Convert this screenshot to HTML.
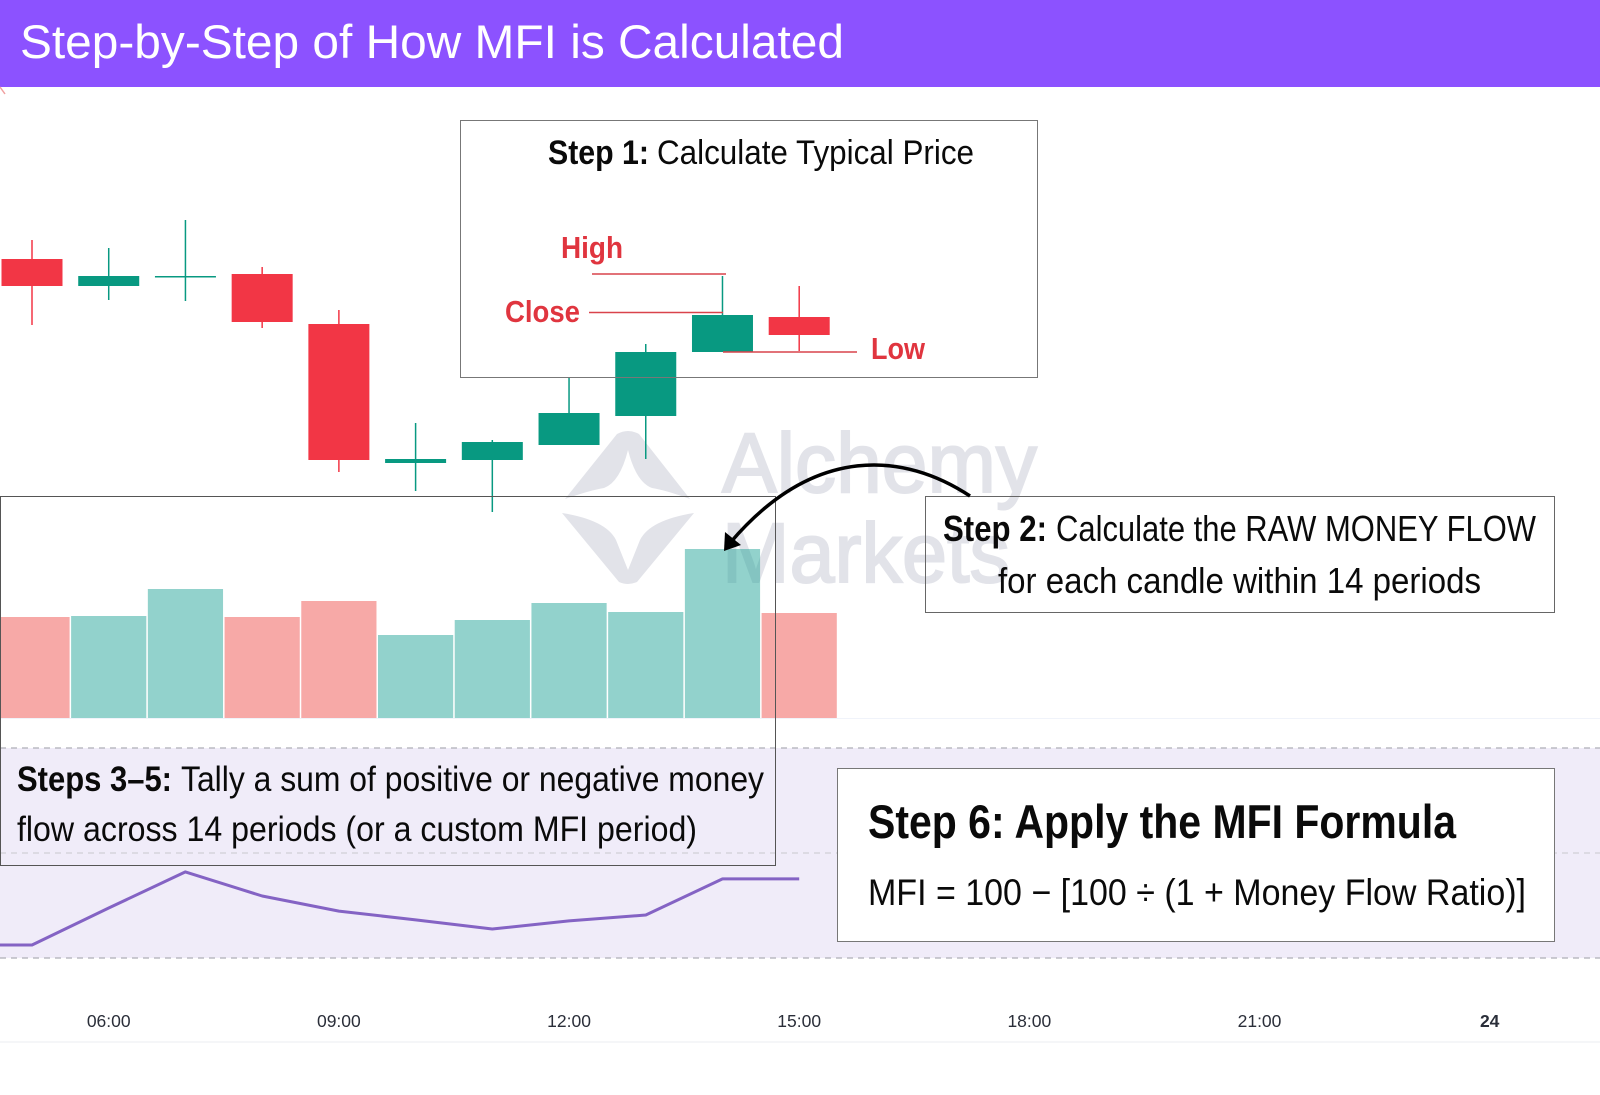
<!DOCTYPE html>
<html lang="en">
<head>
<meta charset="utf-8">
<title>Step-by-Step of How MFI is Calculated</title>
<style>
html,body{margin:0;padding:0;background:#fff;width:1600px;height:1095px;overflow:hidden}
svg{display:block}
text{font-family:"Liberation Sans",sans-serif}
.b{font-weight:700}
</style>
</head>
<body>
<svg id="chart" xmlns="http://www.w3.org/2000/svg" width="1600" height="1095" viewBox="0 0 1600 1095">
  <rect x="0" y="0" width="1600" height="1095" fill="#ffffff"/>
  <g id="watermark" fill="#e2e3e9">
    <path d="M565 499 L617 434 Q628 428 639 434 L690 499 Q665 490 652 488 Q636 482 628 450 Q620 482 604 488 Q591 490 565 499 Z"/>
    <path d="M562 513 L619 582 Q628 586 637 582 L694 513 Q650 520 640 540 L628 570 L616 540 Q606 520 562 513 Z"/>
    <text x="722" y="492" font-size="84" stroke="#e2e3e9" stroke-width="2" textLength="315" lengthAdjust="spacingAndGlyphs">Alchemy</text>
    <text x="722" y="582" font-size="84" stroke="#e2e3e9" stroke-width="2" textLength="288" lengthAdjust="spacingAndGlyphs">Markets</text>
  </g>
  <line x1="0" y1="718.5" x2="1600" y2="718.5" stroke="#f0f3fa" stroke-width="1"/>
  <line x1="0" y1="1042" x2="1600" y2="1042" stroke="#f2f3f6" stroke-width="1.5"/>
  <g id="mfi-panel"></g>
  <g id="volume-bars"></g>
  <g id="candles"></g>
  <g id="time-axis"></g>

  <rect x="0" y="0" width="1600" height="87" fill="#8c52ff"/>
  <text x="20" y="58" font-size="47" fill="#ffffff" textLength="824" lengthAdjust="spacingAndGlyphs">Step-by-Step of How MFI is Calculated</text>
  <line x1="0" y1="87" x2="5" y2="94" stroke="#f0a0a0" stroke-width="1.5"/>

  <rect x="460.5" y="120.5" width="577" height="257" fill="none" stroke="#777" stroke-width="1"/>
  <text class="b" x="548" y="164" font-size="34" fill="#0a0a0a" textLength="101" lengthAdjust="spacingAndGlyphs">Step 1:</text>
  <text x="657" y="164" font-size="34" fill="#0a0a0a" textLength="317" lengthAdjust="spacingAndGlyphs">Calculate Typical Price</text>
  <text class="b" x="561" y="258" font-size="31" fill="#e0353f" textLength="62" lengthAdjust="spacingAndGlyphs">High</text>
  <text class="b" x="505" y="322" font-size="31" fill="#e0353f" textLength="75" lengthAdjust="spacingAndGlyphs">Close</text>
  <text class="b" x="871" y="359" font-size="31" fill="#e0353f" textLength="54" lengthAdjust="spacingAndGlyphs">Low</text>
  <line x1="592" y1="274" x2="726" y2="274" stroke="#d9434b" stroke-width="1.5"/>
  <line x1="589" y1="312.5" x2="723" y2="312.5" stroke="#d9434b" stroke-width="1.5"/>
  <line x1="723" y1="352" x2="857" y2="352" stroke="#d9434b" stroke-width="1.5"/>

  <rect x="0.5" y="496.5" width="775" height="369" fill="none" stroke="#555" stroke-width="1"/>
  <text class="b" x="17" y="791" font-size="35" fill="#0a0a0a" textLength="155" lengthAdjust="spacingAndGlyphs">Steps 3–5:</text>
  <text x="181" y="791" font-size="35" fill="#0a0a0a" textLength="583" lengthAdjust="spacingAndGlyphs">Tally a sum of positive or negative money</text>
  <text x="17" y="841" font-size="35" fill="#0a0a0a" textLength="680" lengthAdjust="spacingAndGlyphs">flow across 14 periods (or a custom MFI period)</text>

  <rect x="925.5" y="496.5" width="629" height="116" fill="none" stroke="#666" stroke-width="1"/>
  <text class="b" x="943" y="541" font-size="36" fill="#0a0a0a" textLength="104" lengthAdjust="spacingAndGlyphs">Step 2:</text>
  <text x="1056" y="541" font-size="36" fill="#0a0a0a" textLength="480" lengthAdjust="spacingAndGlyphs">Calculate the RAW MONEY FLOW</text>
  <text x="998" y="593" font-size="36" fill="#0a0a0a" textLength="483" lengthAdjust="spacingAndGlyphs">for each candle within 14 periods</text>

  <rect x="837.5" y="768.5" width="717" height="173" fill="#ffffff" stroke="#777" stroke-width="1"/>
  <text class="b" x="868" y="838" font-size="47" fill="#0a0a0a" textLength="588" lengthAdjust="spacingAndGlyphs">Step 6: Apply the MFI Formula</text>
  <text x="868" y="905" font-size="37" fill="#0a0a0a" textLength="658" lengthAdjust="spacingAndGlyphs">MFI = 100 − [100 ÷ (1 + Money Flow Ratio)]</text>

  <path d="M970 496 C905 453 815 443 730 543" fill="none" stroke="#000" stroke-width="3.5"/>
  <polygon points="724,551 725,532 741,545" fill="#000"/>
</svg>
<script>
// Candle values
const opens  = [126.1, 123.4, 124.4, 124.6, 119.6, 105.7, 106.0, 107.5, 110.4, 116.8, 120.3];
const highs  = [128.0, 127.2, 130.0, 125.3, 121.0, 109.7, 108.0, 114.3, 117.6, 124.4, 123.4];
const lows   = [119.5, 122.0, 121.9, 119.2, 104.8, 102.9, 100.8, 107.5, 106.1, 116.8, 116.9];
const closes = [123.4, 124.4, 124.4, 119.8, 106.0, 106.1, 107.8, 110.7, 116.8, 120.5, 118.5];
// Volume per candle
const volumes = [1010, 1020, 1290, 1010, 1170, 830, 980, 1150, 1060, 1690, 1050];
// MFI: the reading before the first candle, then one per candle
const mfiValues = [23.7, 23.7, 34.3, 44.6, 37.7, 33.4, 30.9, 28.3, 30.6, 32.3, 42.6, 42.6];
// Time axis
const timeLabels = ["06:00", "09:00", "12:00", "15:00", "18:00", "21:00", "24"];
const timeLabelSlots = [1, 4, 7, 10, 13, 16, 19];
// MFI levels
const mfiLevels = [80, 50, 20];

const NS = "http://www.w3.org/2000/svg";
const xAt = i => 32 + i * 76.72;
const priceY = p => 520 - (p - 100) * 10;
const volumeY = v => 718 - v / 10;
const mfiY = v => 853 - (v - 50) * 3.5;

function make(tag, attrs, parent) {
  const el = document.createElementNS(NS, tag);
  for (const k in attrs) el.setAttribute(k, attrs[k]);
  parent.appendChild(el);
  return el;
}

// MFI panel
const mfiPanel = document.getElementById("mfi-panel");
const band = make("rect", {x: 0, y: mfiY(80), width: 1600, height: mfiY(20) - mfiY(80), fill: "#f0ecf9"}, mfiPanel);


mfiLevels.forEach(level => {
  const ln = make("line", {x1: 0, x2: 1600, y1: mfiY(level), y2: mfiY(level),
    stroke: level === 50 ? "#cfcfd6" : "#aeaeb6", "stroke-width": 1.3, "stroke-dasharray": "6 5"}, mfiPanel);
  
  
});
const mfiPoints = mfiValues.map((v, i) => xAt(i - 1).toFixed(1) + "," + mfiY(v).toFixed(1)).join(" ");
const mfiLine = make("polyline", {points: mfiPoints, fill: "none", stroke: "#8463c4", "stroke-width": 3, "stroke-linejoin": "round"}, mfiPanel);



// Volume bars
const volumeGroup = document.getElementById("volume-bars");
volumes.forEach((v, i) => {
  const up = closes[i] >= opens[i];
  const bar = make("rect", {x: xAt(i) - 37.6, y: volumeY(v), width: 75.2, height: 718 - volumeY(v),
    fill: up ? "rgba(38,166,154,0.5)" : "rgba(239,83,80,0.5)"}, volumeGroup);
  
  
});

// Candles
const candleGroup = document.getElementById("candles");
opens.forEach((o, i) => {
  const c = closes[i];
  const color = c >= o ? "#089981" : "#f23645";
  const wick = make("line", {x1: xAt(i), x2: xAt(i), y1: priceY(highs[i]), y2: priceY(lows[i]), stroke: color, "stroke-width": 1.5}, candleGroup);
  
  
  const top = priceY(Math.max(o, c));
  const h = Math.max(1.5, priceY(Math.min(o, c)) - top);
  const body = make("rect", {x: xAt(i) - 30.5, y: top, width: 61, height: h, fill: color}, candleGroup);
  
  
});

// Time axis labels
const timeAxis = document.getElementById("time-axis");
timeLabels.forEach((t, i) => {
  const isDay = t === "24";
  const label = make("text", {x: xAt(timeLabelSlots[i]), y: 1027, "text-anchor": "middle", "font-size": 17.5,
    "font-weight": isDay ? 700 : 400, fill: "#2a2e39"}, timeAxis);
  label.textContent = t;
  
  
});
</script>
</body>
</html>
